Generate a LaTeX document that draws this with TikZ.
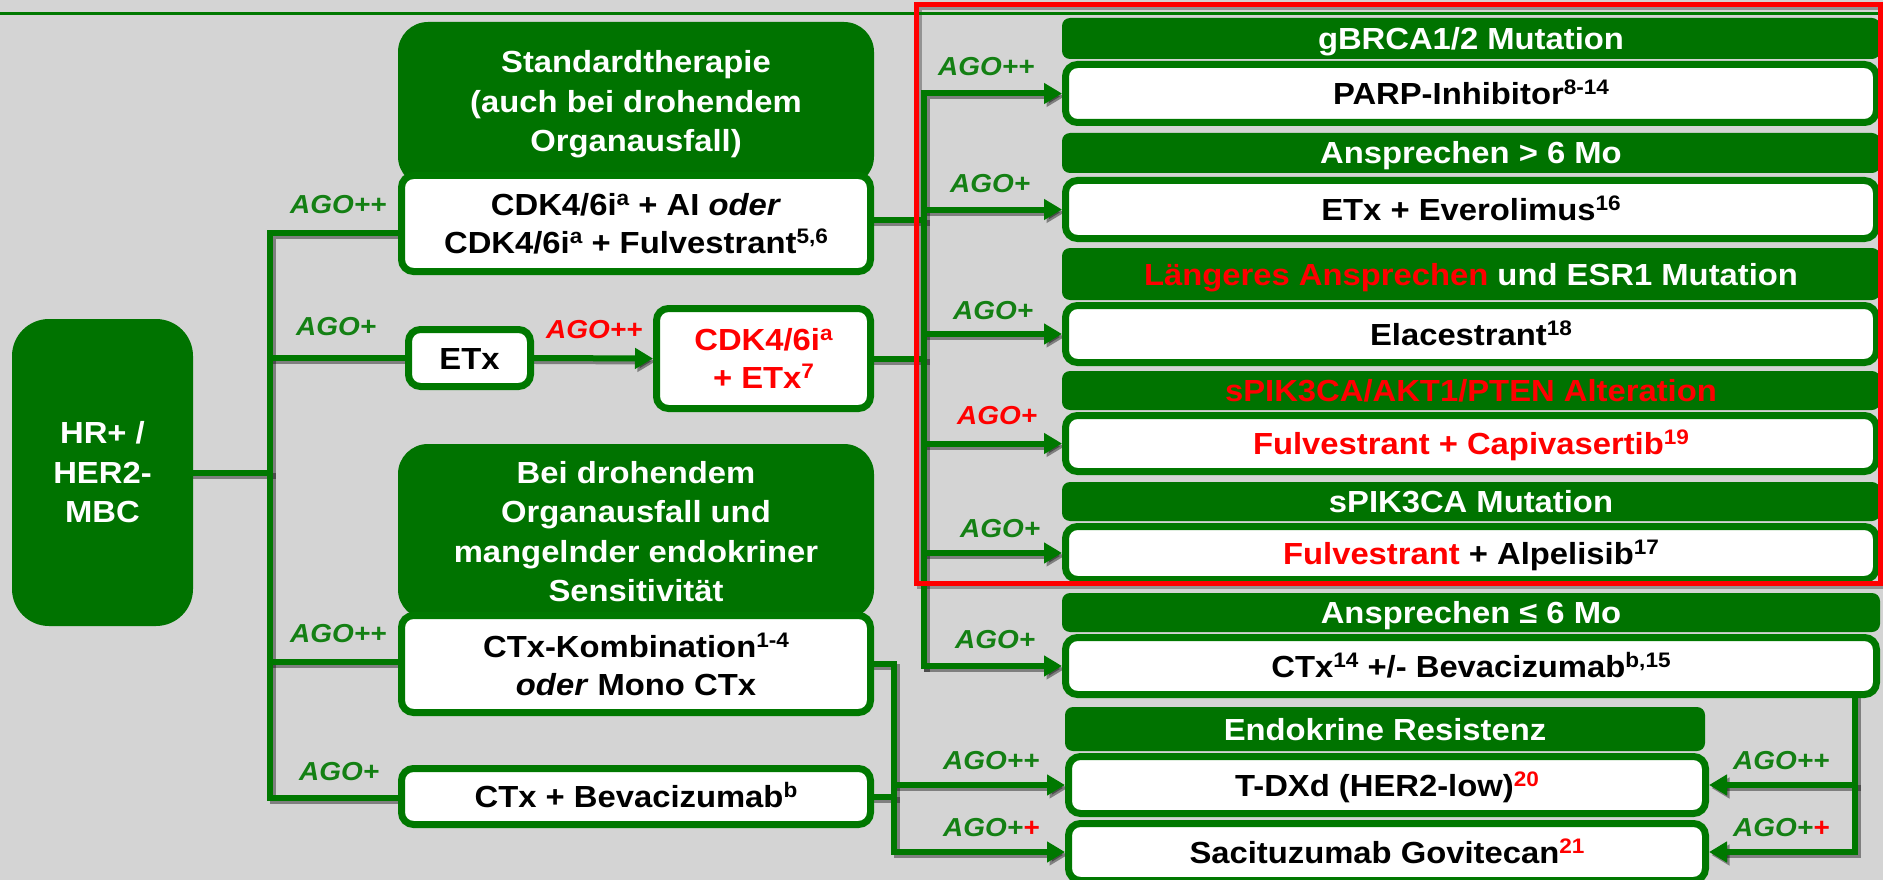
\documentclass[tikz,border=0pt]{standalone}
\usepackage{fontspec}
\setmainfont{Liberation Sans}[FakeStretch=1.075]
\usetikzlibrary{arrows.meta}
\definecolor{bggray}{RGB}{212,212,212}
\definecolor{dgreen}{RGB}{0,115,0}
\definecolor{wgreen}{RGB}{0,120,0}
\definecolor{lgreen}{RGB}{20,128,20}
\definecolor{myred}{RGB}{255,0,0}
\pgfdeclarelayer{bgl}\pgfdeclarelayer{shl}\pgfsetlayers{bgl,shl,main}
\newcommand\spx[1]{\raisebox{10pt}{\fontsize{21pt}{21pt}\selectfont #1}}
\newcommand\mfs{\fontsize{30.5pt}{39.5pt}\selectfont}
\newcommand\allwires{%
  % left tree
  \draw[wire] (LB1 -| cdk.west) -- (LB1) -- (LB5) -- (LB5 -| ctxb.west);
  \draw[wire] (LB2) -- (etx.west);
  \draw[wire] (hr.east) -- (hr.east -| LB3);
  \draw[wire] (LB4) -- (LB4 -| ctxk.west);
  \draw[wire,arr] (etx.east) -- (cdketx.west);
  % right bus
  \draw[wire] (CDKo -| cdk.east) -- (CDKo);
  \draw[wire] (cdketx.east) -- (cdketx.east -| RB0);
  \draw[wire,arr] (ctx14.west -| RB0) -- (RB0 |- parp.west) -- (parp.west);
  \draw[wire,arr] (RB0 |- etxev.west) -- (etxev.west);
  \draw[wire,arr] (RB0 |- elac.west) -- (elac.west);
  \draw[wire,arr] (RB0 |- capi.west) -- (capi.west);
  \draw[wire,arr] (RB0 |- alp.west) -- (alp.west);
  \draw[wire,arr] (RB0 |- ctx14.west) -- (ctx14.west);
  % bottom left
  \draw[wire,arr] (ctxk.east) -- (ctxk.east -| BL1) -- (BL1 |- sac.west) -- (sac.west);
  \draw[wire] (ctxb.east) -- (ctxb.east -| BL1);
  \draw[wire,arr] (BL1 |- tdxd.west) -- (tdxd.west);
  % bottom right
  \draw[wire,arr] (ctx14.south -| BR1) -- (BR1 |- sac.east) -- (sac.east);
  \draw[wire,arr] (BR1 |- tdxd.east) -- (tdxd.east);
}
\begin{document}
\begin{tikzpicture}[x=1pt,y=-1pt,
  hdr/.style={fill=dgreen, rounded corners=8pt, text=white, font=\bfseries\mfs, align=center, inner sep=0pt},
  bighdr/.style={hdr, rounded corners=30pt},
  wbox/.style={fill=white, draw=wgreen, line width=7pt, rounded corners=12pt, text=black,
    font=\bfseries\fontsize{30.5pt}{38pt}\selectfont, align=center, inner sep=0pt},
  one/.style={text height=22pt, text depth=0pt},
  lab/.style={font=\bfseries\itshape\fontsize{26pt}{26pt}\selectfont, text=lgreen, anchor=base west, inner sep=0pt},
  wire/.style={draw=wgreen, line width=6pt, line cap=rect},
  arr/.style={-{Triangle[length=18pt,width=20pt]}}]
\useasboundingbox (0,0) rectangle (1883,880);
\begin{pgfonlayer}{bgl}
  \fill[bggray] (0,0) rectangle (1883,880);
\end{pgfonlayer}
\draw[wgreen, line width=3pt] (0,14) -- (1883,14);

% left part
\node[hdr, rounded corners=37pt, minimum width=181pt, minimum height=307pt] (hr) at (102.5,472.5) {HR+ /\\HER2-\\MBC};
\node[bighdr, minimum width=476pt, minimum height=164.5pt] (std) at (636,104.25) {Standardtherapie\\(auch bei drohendem\\Organausfall)};
\node[wbox, minimum width=469pt, minimum height=96pt] (cdk) at (636,223.5) {CDK4/6i\spx{a} + AI \textit{oder}\\CDK4/6i\spx{a} + Fulvestrant\spx{5,6}};
\node[wbox, one, minimum width=122pt, minimum height=57pt] (etx) at (469.5,358) {ETx};
\node[wbox, minimum width=214pt, minimum height=100pt, text=myred] (cdketx) at (763.5,358.5) {CDK4/6i\spx{a}\\+ ETx\spx{7}};
\node[bighdr, minimum width=476pt, minimum height=175.5pt] (bei) at (636,531.75) {Bei drohendem\\Organausfall und\\mangelnder endokriner\\Sensitivit\"at};
\node[wbox, minimum width=469pt, minimum height=97pt] (ctxk) at (636,664) {CTx-Kombination\spx{1-4}\\\textit{oder} Mono CTx};
\node[wbox, one, minimum width=469pt, minimum height=56pt] (ctxb) at (636,796.5) {CTx + Bevacizumab\spx{b}};

% right column
\node[hdr, one, minimum width=818pt, minimum height=41pt] (h1) at (1471,38.5) {gBRCA1/2 Mutation};
\node[wbox, one, minimum width=811pt, minimum height=58pt] (parp) at (1471,93.5) {PARP-Inhibitor\spx{8-14}};
\node[hdr, one, minimum width=818pt, minimum height=40pt] (h2) at (1471,153) {Ansprechen > 6 Mo};
\node[wbox, one, minimum width=811pt, minimum height=58pt] (etxev) at (1471,209.5) {ETx + Everolimus\spx{16}};
\node[hdr, one, minimum width=818pt, minimum height=52pt] (h3) at (1471,274) {\textcolor{myred}{L\"angeres Ansprechen} und ESR1 Mutation};
\node[wbox, one, minimum width=811pt, minimum height=57pt] (elac) at (1471,334) {Elacestrant\spx{18}};
\node[hdr, one, minimum width=818pt, minimum height=39pt, text=myred] (h4) at (1471,390.5) {sPIK3CA/AKT1/PTEN Alteration};
\node[wbox, one, minimum width=811pt, minimum height=56pt, text=myred] (capi) at (1471,443.5) {Fulvestrant + Capivasertib\spx{19}};
\node[hdr, one, minimum width=818pt, minimum height=39pt] (h5) at (1471,501.5) {sPIK3CA Mutation};
\node[wbox, one, minimum width=811pt, minimum height=53pt] (alp) at (1471,553) {\textcolor{myred}{Fulvestrant} + Alpelisib\spx{17}};
\node[hdr, one, minimum width=818pt, minimum height=39pt] (h6) at (1471,612.5) {Ansprechen ≤ 6 Mo};
\node[wbox, one, minimum width=811pt, minimum height=57pt] (ctx14) at (1471,666) {CTx\spx{14} +/- Bevacizumab\spx{b,15}};
\node[hdr, one, minimum width=640pt, minimum height=44pt] (h7) at (1385,729) {Endokrine Resistenz};
\node[wbox, one, minimum width=637pt, minimum height=57pt] (tdxd) at (1387,785) {T-DXd (HER2-low)\spx{\textcolor{myred}{20}}};
\node[wbox, one, minimum width=637pt, minimum height=57pt] (sac) at (1387,852) {Sacituzumab Govitecan\spx{\textcolor{myred}{21}}};

% bus coordinates
\coordinate (LB1) at (270,233);
\coordinate (LB2) at (270,358);
\coordinate (LB3) at (270,473);
\coordinate (LB4) at (270,662);
\coordinate (LB5) at (270,798);
\coordinate (CDKo) at (924,220);
\coordinate (RB0) at (924,93);
\coordinate (BL1) at (894,662);
\coordinate (BR1) at (1855,698);

\begin{pgfonlayer}{shl}
\begin{scope}[transform canvas={shift={(2.5pt,-3pt)}}, wire/.style={draw=black, opacity=0.4, line width=6pt, line cap=rect}]
  \allwires
  \draw[black, opacity=0.3, line width=5pt] (916.5,5) rectangle (1880.5,583.5);
\end{scope}
\end{pgfonlayer}
\allwires

% red frame
\draw[myred, line width=5pt] (916.5,5) rectangle (1880.5,583.5);

% labels
\node[lab] (a1) at (290,213) {AGO++};
\node[lab] (a2) at (296,335) {AGO+};
\node[lab] (a3) at (290,642) {AGO++};
\node[lab] (a4) at (299,780) {AGO+};
\node[lab, text=myred] (a5) at (546,338) {AGO++};
\node[lab] (b1) at (938,76) {AGO++};
\node[lab] (b2) at (950,193) {AGO+};
\node[lab] (b3) at (953,319) {AGO+};
\node[lab, text=myred] (b4) at (957,424) {AGO+};
\node[lab] (b5) at (960,537) {AGO+};
\node[lab] (b6) at (955,648) {AGO+};
\node[lab] (c1) at (943,769) {AGO++};
\node[lab] (c2) at (943,836) {AGO+\textcolor{myred}{+}};
\node[lab] (c3) at (1733,769) {AGO++};
\node[lab] (c4) at (1733,836) {AGO+\textcolor{myred}{+}};
\end{tikzpicture}
\end{document}
